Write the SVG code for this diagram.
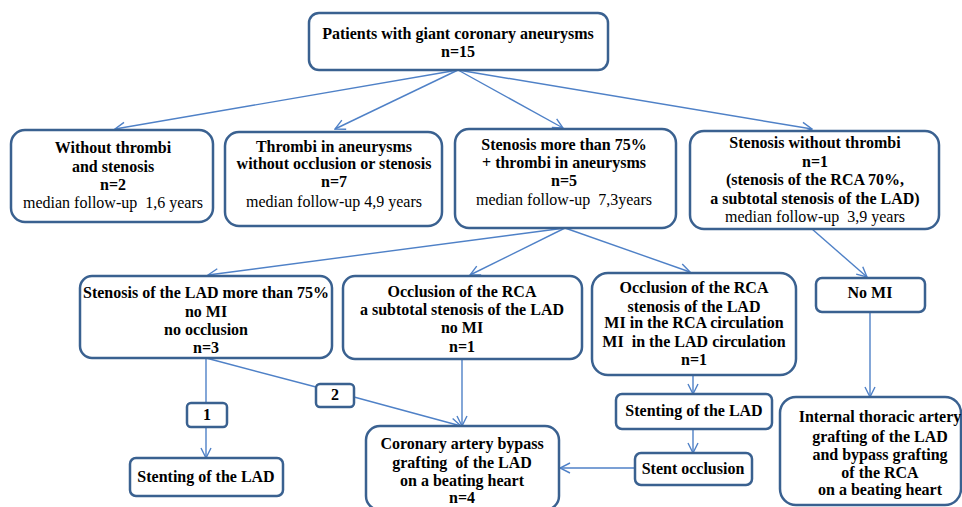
<svg xmlns="http://www.w3.org/2000/svg" width="962" height="507" viewBox="0 0 962 507">
<defs>
<style>
.box{fill:#fff;stroke:#3a6190;stroke-width:2.5}
.b{font-family:"Liberation Serif","Times New Roman",serif;font-weight:bold;font-size:16px;text-anchor:middle;fill:#000}
.r{font-family:"Liberation Serif","Times New Roman",serif;font-size:16px;text-anchor:middle;fill:#000}
.ln{stroke:#4f81c7;stroke-width:1.4;fill:none}
.ar{marker-end:url(#ah)}
</style>
<marker id="ah" viewBox="0 0 12 12" refX="11" refY="6" markerWidth="12" markerHeight="12" markerUnits="userSpaceOnUse" orient="auto">
<path d="M1,1 L11,6 L1,11" fill="none" stroke="#4f81c7" stroke-width="1.4"/>
</marker>
</defs>
<rect width="962" height="507" fill="#fff"/>
<g id="connectors">
<line class="ln ar" x1="458" y1="70" x2="115" y2="129"/>
<line class="ln ar" x1="458" y1="70" x2="335" y2="129"/>
<line class="ln ar" x1="458" y1="70" x2="563" y2="128"/>
<line class="ln ar" x1="458" y1="70" x2="812" y2="129"/>
<line class="ln ar" x1="565" y1="228" x2="208" y2="275"/>
<line class="ln ar" x1="565" y1="228" x2="470" y2="275"/>
<line class="ln ar" x1="565" y1="228" x2="690" y2="272"/>
<line class="ln ar" x1="812" y1="229" x2="867" y2="277"/>
<line class="ln" x1="206" y1="358" x2="206" y2="403"/>
<line class="ln ar" x1="206" y1="427" x2="206" y2="458"/>
<line class="ln" x1="206" y1="358" x2="316" y2="387"/>
<line class="ln ar" x1="354" y1="397" x2="461" y2="426"/>
<line class="ln ar" x1="462" y1="359" x2="462" y2="426"/>
<line class="ln ar" x1="693" y1="375" x2="693" y2="394"/>
<line class="ln ar" x1="693" y1="429" x2="693" y2="453"/>
<line class="ln ar" x1="635" y1="468" x2="560" y2="468"/>
<line class="ln ar" x1="870" y1="312" x2="870" y2="397"/>
</g>
<g id="n-top">
<rect class="box" x="309" y="13" width="299" height="57" rx="10"/>
<text class="b" x="458" y="39">Patients with giant coronary aneurysms</text>
<text class="b" x="458" y="57">n=15</text>
</g>
<g id="n-without">
<rect class="box" x="11" y="130" width="202" height="92" rx="14"/>
<text class="b" x="113" y="153">Without thrombi</text>
<text class="b" x="113" y="172">and stenosis</text>
<text class="b" x="113" y="190">n=2</text>
<text class="r" x="113" y="208">median follow-up &#160;1,6 years</text>
</g>
<g id="n-thrombi">
<rect class="box" x="225" y="132" width="217" height="94" rx="14"/>
<text class="b" x="334" y="152">Thrombi in aneurysms</text>
<text class="b" x="334" y="169">without occlusion or stenosis</text>
<text class="b" x="334" y="187">n=7</text>
<text class="r" x="334" y="207">median follow-up 4,9 years</text>
</g>
<g id="n-stenosis75">
<rect class="box" x="455" y="129" width="221" height="99" rx="14"/>
<text class="b" x="564" y="150">Stenosis more than 75%</text>
<text class="b" x="564" y="168">+ thrombi in aneurysms</text>
<text class="b" x="564" y="186">n=5</text>
<text class="r" x="564" y="205">median follow-up &#160;7,3years</text>
</g>
<g id="n-stenosis-no-thrombi">
<rect class="box" x="690" y="131" width="249" height="98" rx="14"/>
<text class="b" x="815" y="148">Stenosis without thrombi</text>
<text class="b" x="815" y="167">n=1</text>
<text class="b" x="815" y="185">(stenosis of the RCA 70%,</text>
<text class="b" x="815" y="204">a subtotal stenosis of the LAD)</text>
<text class="r" x="815" y="222">median follow-up &#160;3,9 years</text>
</g>
<g id="n-lad75">
<rect class="box" x="80" y="276" width="252" height="82" rx="12"/>
<text class="b" x="206" y="298">Stenosis of the LAD more than 75%</text>
<text class="b" x="206" y="317">no MI</text>
<text class="b" x="206" y="335">no occlusion</text>
<text class="b" x="206" y="353">n=3</text>
</g>
<g id="n-occl-rca-nomi">
<rect class="box" x="343" y="276" width="239" height="83" rx="12"/>
<text class="b" x="462" y="297">Occlusion of the RCA</text>
<text class="b" x="462" y="315">a subtotal stenosis of the LAD</text>
<text class="b" x="462" y="333">no MI</text>
<text class="b" x="462" y="352">n=1</text>
</g>
<g id="n-occl-rca-mi">
<rect class="box" x="592" y="273" width="204" height="102" rx="16"/>
<text class="b" x="694" y="293">Occlusion of the RCA</text>
<text class="b" x="694" y="312">stenosis of the LAD</text>
<text class="b" x="694" y="328">MI in the RCA circulation</text>
<text class="b" x="694" y="347">MI &#160;in the LAD circulation</text>
<text class="b" x="694" y="365">n=1</text>
</g>
<g id="n-nomi">
<rect class="box" x="816" y="278" width="109" height="34" rx="6"/>
<text class="b" x="870" y="298">No MI</text>
</g>
<g id="n-label1">
<rect class="box" x="187" y="403" width="40" height="24" rx="4"/>
<text class="b" x="207" y="420">1</text>
</g>
<g id="n-label2">
<rect class="box" x="316" y="384" width="38" height="23" rx="4"/>
<text class="b" x="335" y="400">2</text>
</g>
<g id="n-stent-left">
<rect class="box" x="130" y="458" width="153" height="38" rx="6"/>
<text class="b" x="206" y="482">Stenting of the LAD</text>
</g>
<g id="n-cabg">
<rect class="box" x="366" y="426" width="193" height="84" rx="14"/>
<text class="b" x="462" y="449">Coronary artery bypass</text>
<text class="b" x="462" y="468">grafting &#160;of the LAD</text>
<text class="b" x="462" y="486">on a beating heart</text>
<text class="b" x="462" y="503">n=4</text>
</g>
<g id="n-stent-right">
<rect class="box" x="616" y="394" width="156" height="35" rx="6"/>
<text class="b" x="694" y="416">Stenting of the LAD</text>
</g>
<g id="n-stent-occlusion">
<rect class="box" x="635" y="453" width="117" height="32" rx="6"/>
<text class="b" x="693" y="474">Stent occlusion</text>
</g>
<g id="n-ita">
<rect class="box" x="780" y="397" width="181" height="108" rx="16"/>
<text class="b" x="880" y="422">Internal thoracic artery</text>
<text class="b" x="880" y="442">grafting of the LAD</text>
<text class="b" x="880" y="460">and bypass grafting</text>
<text class="b" x="880" y="478">of the RCA</text>
<text class="b" x="880" y="495">on a beating heart</text>
</g>
</svg>
